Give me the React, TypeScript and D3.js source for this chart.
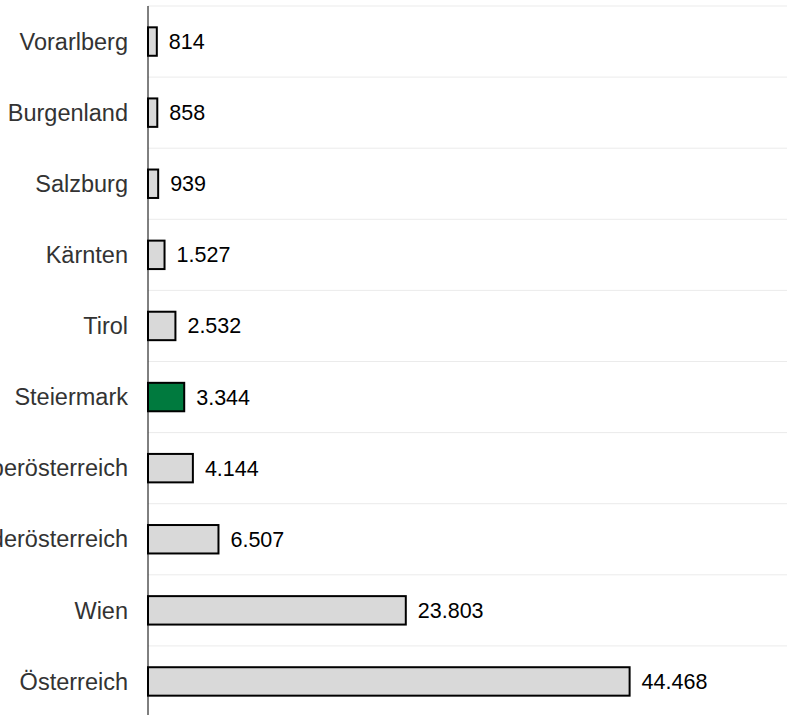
import React from "react";
import * as d3 from "d3";

const categories = [
  "Vorarlberg",
  "Burgenland",
  "Salzburg",
  "Kärnten",
  "Tirol",
  "Steiermark",
  "Oberösterreich",
  "Niederösterreich",
  "Wien",
  "Österreich",
];
const values = [814, 858, 939, 1527, 2532, 3344, 4144, 6507, 23803, 44468];
const highlight = "Steiermark";

const W = 787;
const H = 715;

const locale = d3.formatLocale({ decimal: ",", thousands: ".", grouping: [3], currency: ["", "€"] });
const fmt = locale.format(",d");

export default function App() {
  const x = d3.scaleLinear().domain([0, 59000]).range([148, W]);
  const y = d3
    .scaleBand<string>()
    .domain(categories)
    .range([6, 6 + 10 * 71.1])
    .paddingInner(0.6)
    .paddingOuter(0.3);
  const step = y.step();
  const bw = y.bandwidth();
  const off = (step - bw) / 2;

  return (
    <svg
      width={W}
      height={H}
      style={{ position: "absolute", left: 0, top: 0, background: "#fff" }}
      fontFamily="'Liberation Sans', Arial, sans-serif"
    >
      {categories.map((c) => (
        <line
          key={"g" + c}
          x1={x(0)}
          x2={W}
          y1={(y(c) as number) - off}
          y2={(y(c) as number) - off}
          stroke="#ebebeb"
          strokeWidth={1}
        />
      ))}
      {categories.map((c, i) => {
        const yy = y(c) as number;
        return (
          <g key={c}>
            <rect
              x={x(0)}
              y={yy}
              width={x(values[i]) - x(0)}
              height={bw}
              fill={c === highlight ? "#007a3e" : "#d9d9d9"}
              stroke="#000"
              strokeWidth={2}
            />
            <text
              x={128}
              y={yy + bw / 2}
              dy="0.35em"
              textAnchor="end"
              fontSize={23.5}
              fill="#333"
            >
              {c}
            </text>
            <text
              x={x(values[i]) + 12}
              y={yy + bw / 2}
              dy="0.35em"
              fontSize={21.5}
              fill="#000"
            >
              {fmt(values[i])}
            </text>
          </g>
        );
      })}
      <line x1={x(0)} x2={x(0)} y1={6} y2={H} stroke="#000" strokeWidth={1} />
    </svg>
  );
}
